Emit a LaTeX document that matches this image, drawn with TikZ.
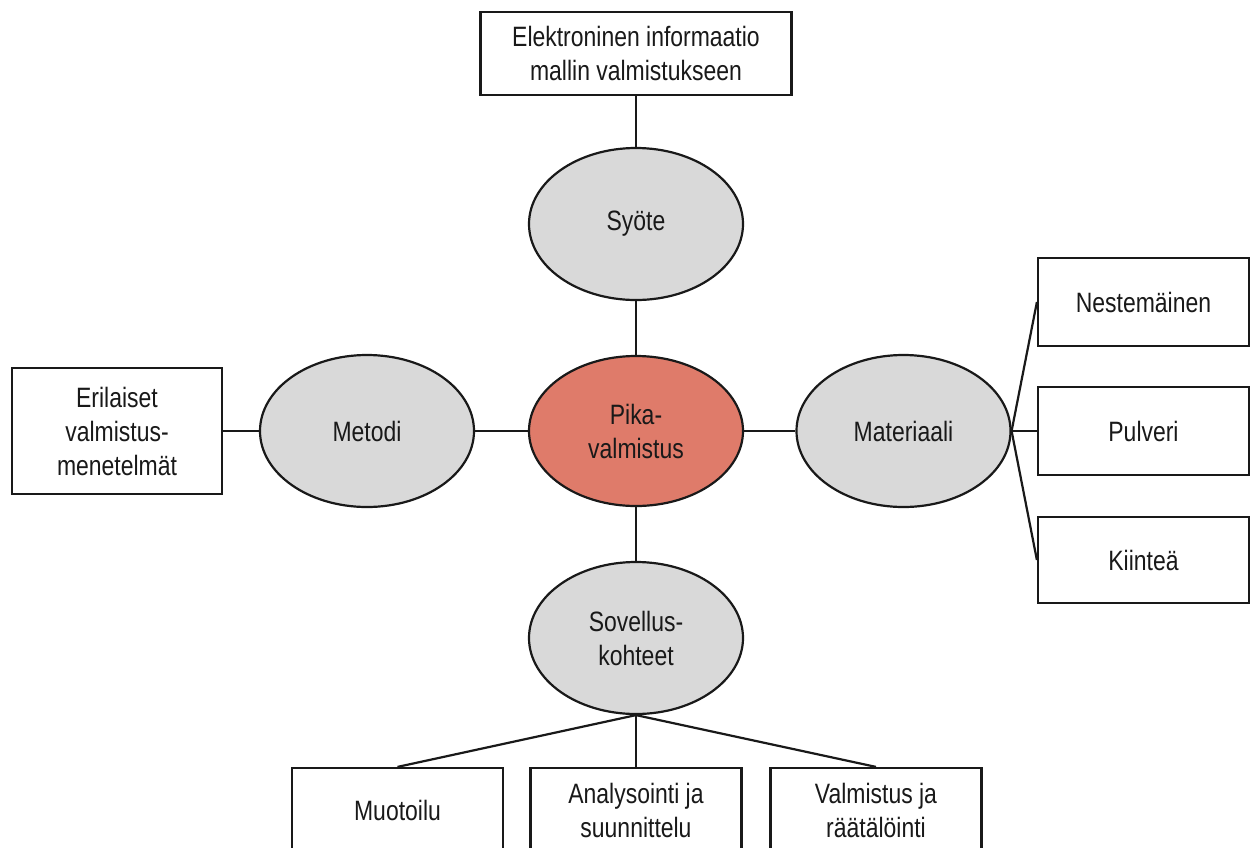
\documentclass[tikz,border=0pt]{standalone}
\usepackage{fontspec}
\setmainfont{Liberation Sans}[FakeStretch=0.82]
\usetikzlibrary{shapes.geometric}
\definecolor{ovalgrey}{RGB}{217,217,217}
\definecolor{coreorange}{RGB}{223,123,106}
\definecolor{inkline}{RGB}{25,25,25}
\begin{document}
\begin{tikzpicture}[x=1pt,y=-1pt,
  every node/.style={font=\fontsize{28}{34}\selectfont, text=inkline},
  oval/.style={ellipse, draw=inkline, line width=2.2pt, fill=ovalgrey,
    minimum width=214pt, minimum height=152pt, inner sep=0pt, align=center},
  core/.style={oval, fill=coreorange, minimum height=150pt},
  infobox/.style={rectangle, draw=inkline, line width=2.2pt, fill=white,
    minimum width=211pt, inner sep=0pt, align=center},
  link/.style={draw=inkline, line width=2.2pt}]
\useasboundingbox (0,0) rectangle (1251,847);

% central hub and its four branches
\node[core] (pika) at (636,431) {Pika-\\valmistus};
\node[oval] (syote) at (636,224) {Syöte};
\node[oval] (metodi) at (367,431) {Metodi};
\node[oval] (materiaali) at (903.5,431) {Materiaali};
\node[oval] (sovellus) at (636,638) {Sovellus-\\kohteet};

% leaf boxes
\node[infobox, minimum width=311pt, minimum height=83pt] (elek) at (636,53.5)
  {Elektroninen informaatio\\mallin valmistukseen};
\node[infobox, minimum width=210pt, minimum height=126pt] (erilaiset) at (117,431)
  {Erilaiset\\valmistus-\\menetelmät};
\node[infobox, minimum height=88pt] (neste) at (1143.5,302) {Nestemäinen};
\node[infobox, minimum height=88pt] (pulveri) at (1143.5,431) {Pulveri};
\node[infobox, minimum height=86pt] (kiintea) at (1143.5,560) {Kiinteä};
\node[infobox, minimum height=84pt] (muotoilu) at (397.5,810) {Muotoilu};
\node[infobox, minimum height=84pt] (analyysi) at (636,810) {Analysointi ja\\suunnittelu};
\node[infobox, minimum height=84pt] (raatalointi) at (876,810) {Valmistus ja\\räätälöinti};

% connectors
\draw[link] (elek.south) -- (syote.north);
\draw[link] (syote.south) -- (pika.north);
\draw[link] (pika.south) -- (sovellus.north);
\draw[link] (pika.west) -- (metodi.east);
\draw[link] (metodi.west) -- (erilaiset.east);
\draw[link] (pika.east) -- (materiaali.west);
\draw[link] (materiaali.east) -- (neste.west);
\draw[link] (materiaali.east) -- (pulveri.west);
\draw[link] (materiaali.east) -- (kiintea.west);
\draw[link] (sovellus.south) -- (muotoilu.north);
\draw[link] (sovellus.south) -- (analyysi.north);
\draw[link] (sovellus.south) -- (raatalointi.north);
\end{tikzpicture}
\end{document}
